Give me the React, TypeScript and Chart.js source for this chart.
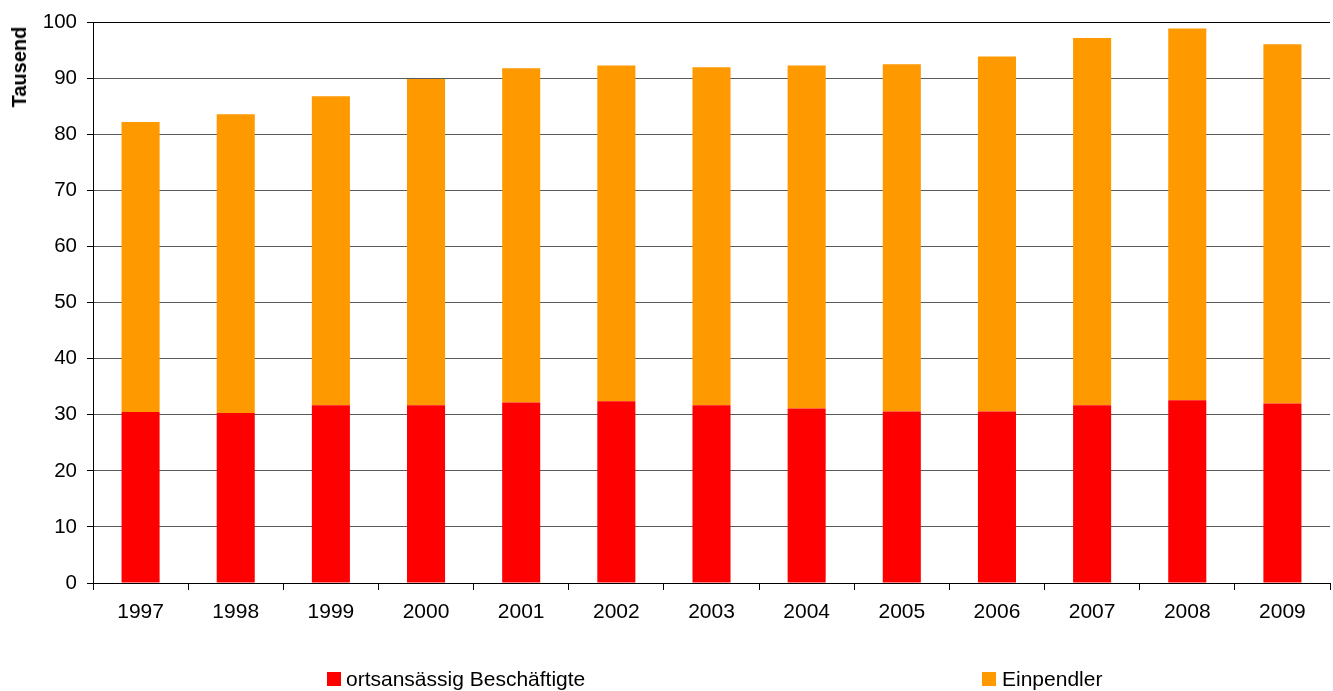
import React, { useEffect, useRef } from "react";
import { Chart, registerables } from "chart.js";

Chart.register(...registerables);

const years = ["1997", "1998", "1999", "2000", "2001", "2002", "2003", "2004", "2005", "2006", "2007", "2008", "2009"];
const ortsansaessig = [30.5, 30.3, 31.7, 31.7, 32.2, 32.4, 31.7, 31.1, 30.6, 30.6, 31.7, 32.6, 32.0];
const einpendler = [51.7, 53.3, 55.1, 58.2, 59.6, 59.9, 60.3, 61.2, 61.9, 63.3, 65.5, 66.3, 64.1];
const yTicks = [0, 10, 20, 30, 40, 50, 60, 70, 80, 90, 100];

const seriesNames = ["ortsansässig Beschäftigte", "Einpendler"];
const seriesColors = ["#FF0000", "#FF9900"];

const FONT = "'Liberation Sans', Arial, Helvetica, sans-serif";

export default function App() {
  const ref = useRef<HTMLCanvasElement | null>(null);

  useEffect(() => {
    if (!ref.current) return;
    const chart = new Chart(ref.current, {
      type: "bar",
      data: {
        labels: years,
        datasets: [
          {
            label: seriesNames[0],
            data: ortsansaessig,
            backgroundColor: seriesColors[0],
            borderWidth: 0,
            barPercentage: 0.4,
            categoryPercentage: 1,
          },
          {
            label: seriesNames[1],
            data: einpendler,
            backgroundColor: seriesColors[1],
            borderWidth: 0,
            barPercentage: 0.4,
            categoryPercentage: 1,
          },
        ],
      },
      options: {
        responsive: false,
        animation: false,
        devicePixelRatio: 1,
        layout: { padding: { top: 21, right: 3, left: 0, bottom: 0 } },
        plugins: {
          legend: { display: false },
          tooltip: { enabled: false },
          title: { display: false },
        },
        scales: {
          x: {
            stacked: true,
            grid: {
              display: true,
              offset: true,
              drawOnChartArea: false,
              drawTicks: true,
              tickLength: 7,
              tickColor: "#000",
              color: "#000",
            },
            border: { display: true, color: "#000", width: 1 },
            ticks: {
              color: "#000",
              font: { family: FONT, size: 21 },
              padding: 10,
              maxRotation: 0,
              autoSkip: false,
            },
            afterFit: (scale: any) => {
              scale.height = 108;
            },
          },
          y: {
            stacked: true,
            min: 0,
            max: 100,
            afterBuildTicks: (scale: any) => {
              scale.ticks = yTicks.map((v) => ({ value: v }));
            },
            grid: {
              color: (ctx: any) => (ctx.tick && ctx.tick.value === 100 ? "#000" : "#5a5a5a"),
              lineWidth: 1,
              drawTicks: true,
              tickLength: 6,
              tickColor: "#000",
            },
            border: { display: true, color: "#000", width: 1 },
            ticks: {
              color: "#000",
              font: { family: FONT, size: 20.5 },
              padding: 10,
            },
            title: {
              display: false,
            },
            afterFit: (scale: any) => {
              scale.width = 93;
            },
          },
        },
      },
    });
    return () => chart.destroy();
  }, []);

  const legendText: React.CSSProperties = {
    position: "absolute",
    fontFamily: FONT,
    fontSize: 21,
    color: "#000",
    lineHeight: "21px",
    top: 668,
    whiteSpace: "nowrap",
  };

  return (
    <div style={{ position: "fixed", left: 0, top: 0, width: 1333, height: 691, background: "#fff" }}>
      <canvas ref={ref} width={1333} height={691} style={{ display: "block", width: 1333, height: 691 }} />
      <div
        style={{
          position: "absolute",
          left: 19,
          top: 67,
          transform: "translate(-50%, -50%) rotate(-90deg)",
          fontFamily: FONT,
          fontSize: 20,
          fontWeight: "bold",
          color: "#000",
          whiteSpace: "nowrap",
          lineHeight: "20px",
        }}
      >
        Tausend
      </div>
      <div style={{ position: "absolute", left: 327, top: 672, width: 14, height: 14, background: seriesColors[0] }} />
      <div style={{ ...legendText, left: 346 }}>{seriesNames[0]}</div>
      <div style={{ position: "absolute", left: 982, top: 672, width: 14, height: 14, background: seriesColors[1] }} />
      <div style={{ ...legendText, left: 1002 }}>{seriesNames[1]}</div>
    </div>
  );
}
